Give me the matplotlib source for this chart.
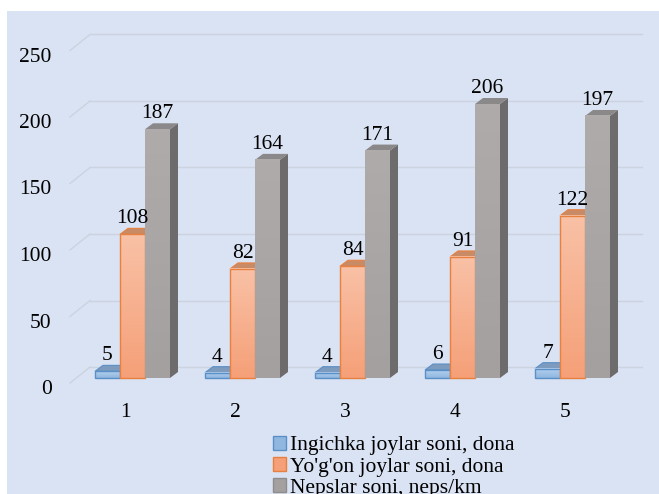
import numpy as np
import matplotlib
matplotlib.use("Agg")
import matplotlib.pyplot as plt
import matplotlib.transforms as mtransforms
from matplotlib.patches import Polygon, Patch, Rectangle

categories = ["1", "2", "3", "4", "5"]
series_names = [
    "Ingichka joylar soni, dona",
    "Yo'g'on joylar soni, dona",
    "Nepslar soni, neps/km",
]
thin_places = [5, 4, 4, 6, 7]
thick_places = [108, 82, 84, 91, 122]
neps = [187, 164, 171, 206, 197]
y_ticks = [0, 50, 100, 150, 200, 250]

W, H, DPI = 659, 494, 100
BG = "#dae3f3"
FONT = "Liberation Serif"
FS = 15.5

# front gradient top/bottom, top face, side face, edge
styles = [
    ("#b3d0ee", "#8fb7e0", "#7c9bbf", "#5e7fa6", "#5b8fc7"),
    ("#f9c1a6", "#f5a078", "#c98a66", "#b86a3e", "#e8803f"),
    ("#aeabaa", "#a3a09f", "#8a8888", "#6d6b6b", "#9a9797"),
]

# pixel geometry of the original (front plane)
px_per_unit = 1.33
zero_px = 378.0
group_px0, group_step = 132.5, 110.0
bar_w = 25.0 / group_step
depth_dx, depth_dy = 8.0 / group_step, 6.0 / px_per_unit
wall_dx, wall_dy = 20.0 / group_step, 16.0 / px_per_unit
wall_shift = 11.0 / px_per_unit


def to_x(px):
    return (px - group_px0) / group_step


def to_y(py):
    return (zero_px - py) / px_per_unit


fig = plt.figure(figsize=(W / DPI, H / DPI), dpi=DPI)
fig.patch.set_facecolor("white")
fig.patches.append(Rectangle((7 / W, 0), 1, (H - 11) / H, transform=fig.transFigure,
                             facecolor=BG, edgecolor="none", zorder=-10))

ax_l, ax_r, ax_t, ax_b = 60, 650, 20, 392
ax = fig.add_axes([ax_l / W, 1 - ax_b / H, (ax_r - ax_l) / W, (ax_b - ax_t) / H])
ax.set_facecolor("none")
for s in ax.spines.values():
    s.set_visible(False)

# back wall gridlines with a short diagonal to the front
grid_x0, grid_x1 = to_x(90), to_x(642)
for v in y_ticks:
    yb = v + wall_shift
    ax.plot([grid_x0, grid_x1], [yb, yb], color="#cbd3e0", lw=1.0, zorder=1)
    ax.plot([grid_x0 - wall_dx, grid_x0], [yb - wall_dy, yb], color="#cbd3e0", lw=1.0, zorder=1)

idx = np.arange(len(categories))
all_series = [thin_places, thick_places, neps]
offsets = [-1.5 * bar_w, -0.5 * bar_w, 0.5 * bar_w]

z = 2
for i in idx:
    for k, vals in enumerate(all_series):
        c_top, c_bot, c_face, c_side, c_edge = styles[k]
        h = vals[i]
        x0 = i + offsets[k]
        x1 = x0 + bar_w
        side = Polygon([(x1, 0), (x1, h), (x1 + depth_dx, h + depth_dy), (x1 + depth_dx, depth_dy)],
                       closed=True, facecolor=c_side, edgecolor="none", zorder=z)
        top = Polygon([(x0, h), (x1, h), (x1 + depth_dx, h + depth_dy), (x0 + depth_dx, h + depth_dy)],
                      closed=True, facecolor=c_face, edgecolor=c_edge if k < 2 else "none",
                      lw=0.8, zorder=z)
        ax.add_patch(side)
        ax.add_patch(top)
        grad = np.linspace(0, 1, 64)[:, None]
        cmap = matplotlib.colors.LinearSegmentedColormap.from_list("g", [c_top, c_bot])
        ax.imshow(grad, cmap=cmap, extent=(x0, x1, 0, h), origin="upper",
                  aspect="auto", zorder=z + 0.1, interpolation="bilinear")
        ax.bar(x0, h, width=bar_w, align="edge", fill=False,
               edgecolor=c_edge if k < 2 else "none", lw=1.0, zorder=z + 0.2)
        ax.text(x0 + bar_w / 2, h + depth_dy, str(h), ha="center", va="bottom",
                fontsize=FS, family=FONT, color="black", zorder=50)
        z += 1

ax.set_xlim(to_x(ax_l), to_x(ax_r))
ax.set_ylim(to_y(ax_b), to_y(ax_t))

ax.set_yticks(y_ticks)
ax.set_yticklabels([str(v) for v in y_ticks], fontsize=FS, family=FONT)
ax.set_xticks(idx - 7.5 / group_step)
ax.set_xticklabels(categories, fontsize=FS, family=FONT)
ax.tick_params(axis="both", length=0, colors="black")
ax.tick_params(axis="y", pad=6)
ax.tick_params(axis="x", pad=8)
shift = mtransforms.ScaledTranslation(0, -9 / DPI, fig.dpi_scale_trans)
for lab in ax.get_yticklabels():
    lab.set_transform(lab.get_transform() + shift)

handles = [Patch(facecolor=styles[k][1], edgecolor=styles[k][4] if k < 2 else "#8f8c8c", lw=1.0)
           for k in range(3)]
fig.legend(handles, series_names, loc="upper left", bbox_to_anchor=(273 / W, 1 - 436 / H),
           frameon=False, prop={"family": FONT, "size": FS}, handlelength=0.6,
           handleheight=0.6, handletextpad=0.2, labelspacing=0.08, borderaxespad=0,
           borderpad=0)

fig.savefig("out.png", dpi=DPI, facecolor=fig.get_facecolor())
